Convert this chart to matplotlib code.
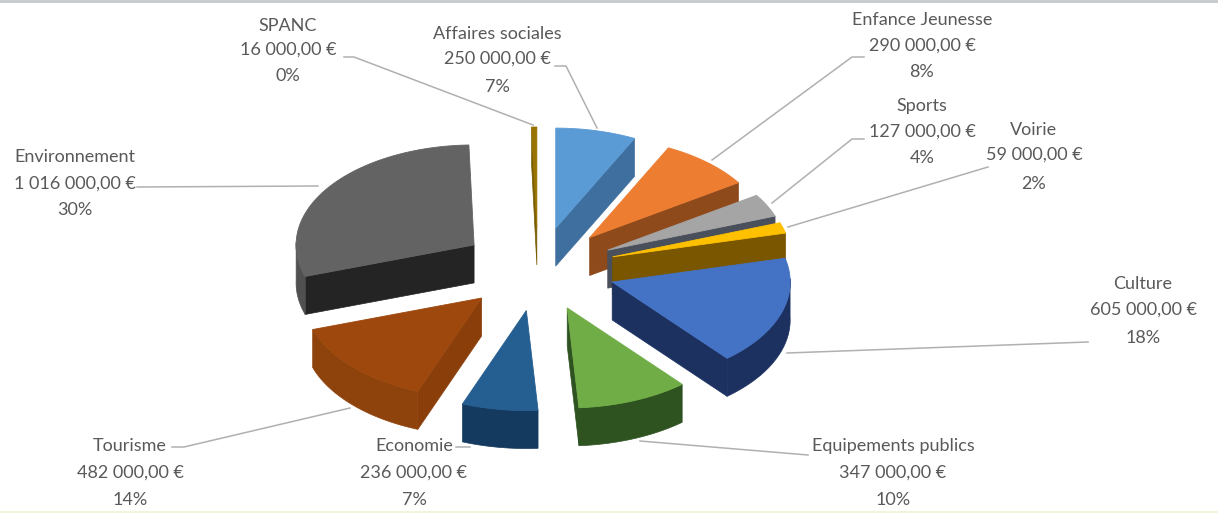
"""Exploded 3D-look budget pie, drawn from flat polygons on a pixel-sized axes."""
import matplotlib
matplotlib.use("Agg")
import matplotlib.pyplot as plt
import numpy as np

NAMES = ["Affaires sociales", "Enfance Jeunesse", "Sports", "Voirie", "Culture",
         "Equipements publics", "Economie", "Tourisme", "Environnement", "SPANC"]
AMOUNTS = [250000, 290000, 127000, 59000, 605000, 347000, 236000, 482000, 1016000, 16000]
PERCENTS = [7, 8, 4, 2, 18, 10, 7, 14, 30, 0]

TOP_COLORS = ["#5b9bd5", "#ed7d31", "#a5a5a5", "#ffc000", "#4472c4",
              "#70ad47", "#255e91", "#9e480e", "#636363", "#997300"]
WALL_COLORS = ["#3f6f9e", "#8f4a1b", "#4a4f5c", "#7a5600", "#1c3160",
               "#2f5320", "#173f66", "#8a3f0b", "#242424", "#7a5c00"]
ARC_COLORS = ["#3f6f9e", "#8f4a1b", "#4a4f5c", "#7a5600", "#1c3160",
              "#2f5320", "#143a60", "#8f430c", "#505050", "#7a5c00"]

# layout, in reference pixels
CX, CY = 538, 269
RX, RY = 178, 100
EX, EY = 78, 42
DEPTH = 38
DRAW_ORDER = [8, 9, 0, 1, 2, 3, 4, 7, 6, 5]
LABEL_X = [497, 922, 922, 1034, 1143, 893, 414, 130, 75, 288]
LABEL_Y = [[34, 59, 87], [20, 46, 72], [106, 132, 158], [130, 155, 184], [284, 310, 338],
           [446, 473, 500], [446, 473, 500], [446, 473, 500], [157, 184, 210], [26, 50, 76]]
LEADERS = [[(555, 66), (566, 66), (597, 128)],
           [(864, 57), (852, 57), (712, 160)],
           [(864, 139), (852, 139), (772, 203)],
           [(988, 167), (788, 227)],
           [(1088, 342), (787, 353)],
           [(808, 455), (640, 441)],
           [(456, 447), (470, 447)],
           [(172, 447), (184, 447), (350, 408)],
           [(137, 187), (318, 186)],
           [(344, 57), (354, 57), (533, 125)]]


def direction(theta):
    # clockwise from 12 o'clock, y grows downward on screen
    return np.sin(theta), -np.cos(theta)


def money(value):
    return f"{value:,.2f}".replace(",", " ").replace(".", ",") + " €"


def draw_slice(ax, start, end, top, wall, arc, z):
    mid = (start + end) / 2
    dx, dy = direction(mid)
    tx, ty = CX + EX * dx, CY + EY * dy

    theta = np.linspace(start, end, 60)
    xs = tx + RX * np.sin(theta)
    ys = ty - RY * np.cos(theta)

    # radial cut faces, only the ones turned to the viewer
    if np.sin(start) < 0:
        ax.fill([tx, xs[0], xs[0], tx], [ty, ys[0], ys[0] + DEPTH, ty + DEPTH],
                color=wall, lw=0.5, zorder=z)
    if np.sin(end) > 0:
        ax.fill([tx, xs[-1], xs[-1], tx], [ty, ys[-1], ys[-1] + DEPTH, ty + DEPTH],
                color=wall, lw=0.5, zorder=z)

    # rim
    front = np.cos(theta) < 0.05
    if front.any():
        fx, fy = xs[front], ys[front]
        ax.fill(np.r_[fx, fx[::-1]], np.r_[fy, fy[::-1] + DEPTH], color=arc, lw=0.5, zorder=z + 0.1)

    ax.fill(np.r_[tx, xs], np.r_[ty, ys], facecolor=top, edgecolor=top, lw=0.6, zorder=z + 0.2)


def main():
    fig = plt.figure(figsize=(12.18, 5.13), dpi=100)
    ax = fig.add_axes([0, 0, 1, 1])
    ax.set_xlim(0, 1218)
    ax.set_ylim(513, 0)
    ax.axis("off")

    ax.axhspan(0, 3, color="#c9ccce", lw=0, zorder=0)
    ax.axhspan(511, 513, color="#f4f4dc", lw=0, zorder=0)

    edges = np.r_[0, np.cumsum(AMOUNTS)] / sum(AMOUNTS) * 2 * np.pi
    for rank, i in enumerate(DRAW_ORDER):
        draw_slice(ax, edges[i], edges[i + 1], TOP_COLORS[i], WALL_COLORS[i], ARC_COLORS[i], 3 + rank)

    for pts in LEADERS:
        px, py = zip(*pts)
        ax.plot(px, py, color="#b0b0b0", lw=1.1, zorder=2)

    for i, name in enumerate(NAMES):
        rows = [name, money(AMOUNTS[i]), f"{PERCENTS[i]}%"]
        for row, y in zip(rows, LABEL_Y[i]):
            ax.text(LABEL_X[i], y, row, ha="center", va="center", fontsize=13,
                    family="Lato", color="#595959", zorder=20)

    fig.savefig("out.png", dpi=100)
    plt.close(fig)


if __name__ == "__main__":
    main()
